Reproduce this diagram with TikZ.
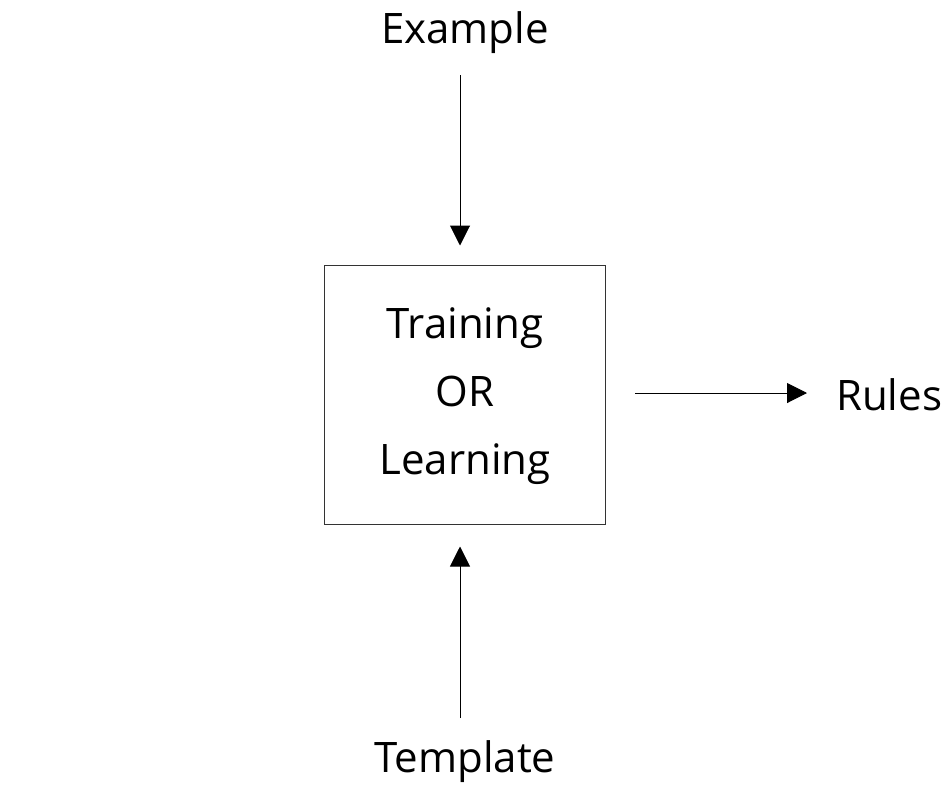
\documentclass[tikz,border=0pt]{standalone}
\usepackage{fontspec}
\setmainfont{Open Sans}
\usetikzlibrary{arrows.meta}
\begin{document}
\begin{tikzpicture}[x=1pt,y=-1pt,
  lbl/.style={font=\fontsize{42}{42}\selectfont, inner sep=0pt, anchor=base},
  arr/.style={draw=black, line width=1pt, -{Triangle[length=20pt,width=20pt]}},
  boxn/.style={draw=black!80, line width=1pt, minimum width=281pt, minimum height=259pt, inner sep=0pt}]
\useasboundingbox (0,0) rectangle (950,788);
\node[boxn] (box) at (464.5,394.5) {};
\node[lbl] (t1) at (465,338) {Training};
\node[lbl] (t2) at (465,406) {OR};
\node[lbl] (t3) at (465,474) {Learning};
\node[lbl] (ex) at (465,43) {Example};
\node[lbl] (tp) at (465,772) {Template};
\node[lbl, anchor=base west] (ru) at (836,410) {Rules};
\coordinate (a1) at (460,75);
\coordinate (b1) at (460,718);
\coordinate (c1) at (635,393);
\draw[arr, shorten >=19pt] (a1) -- (a1 |- box.north);
\draw[arr, shorten >=22pt] (b1) -- (b1 |- box.south);
\draw[arr, shorten >=29pt] (c1) -- (c1 -| ru.west);
\end{tikzpicture}
\end{document}
